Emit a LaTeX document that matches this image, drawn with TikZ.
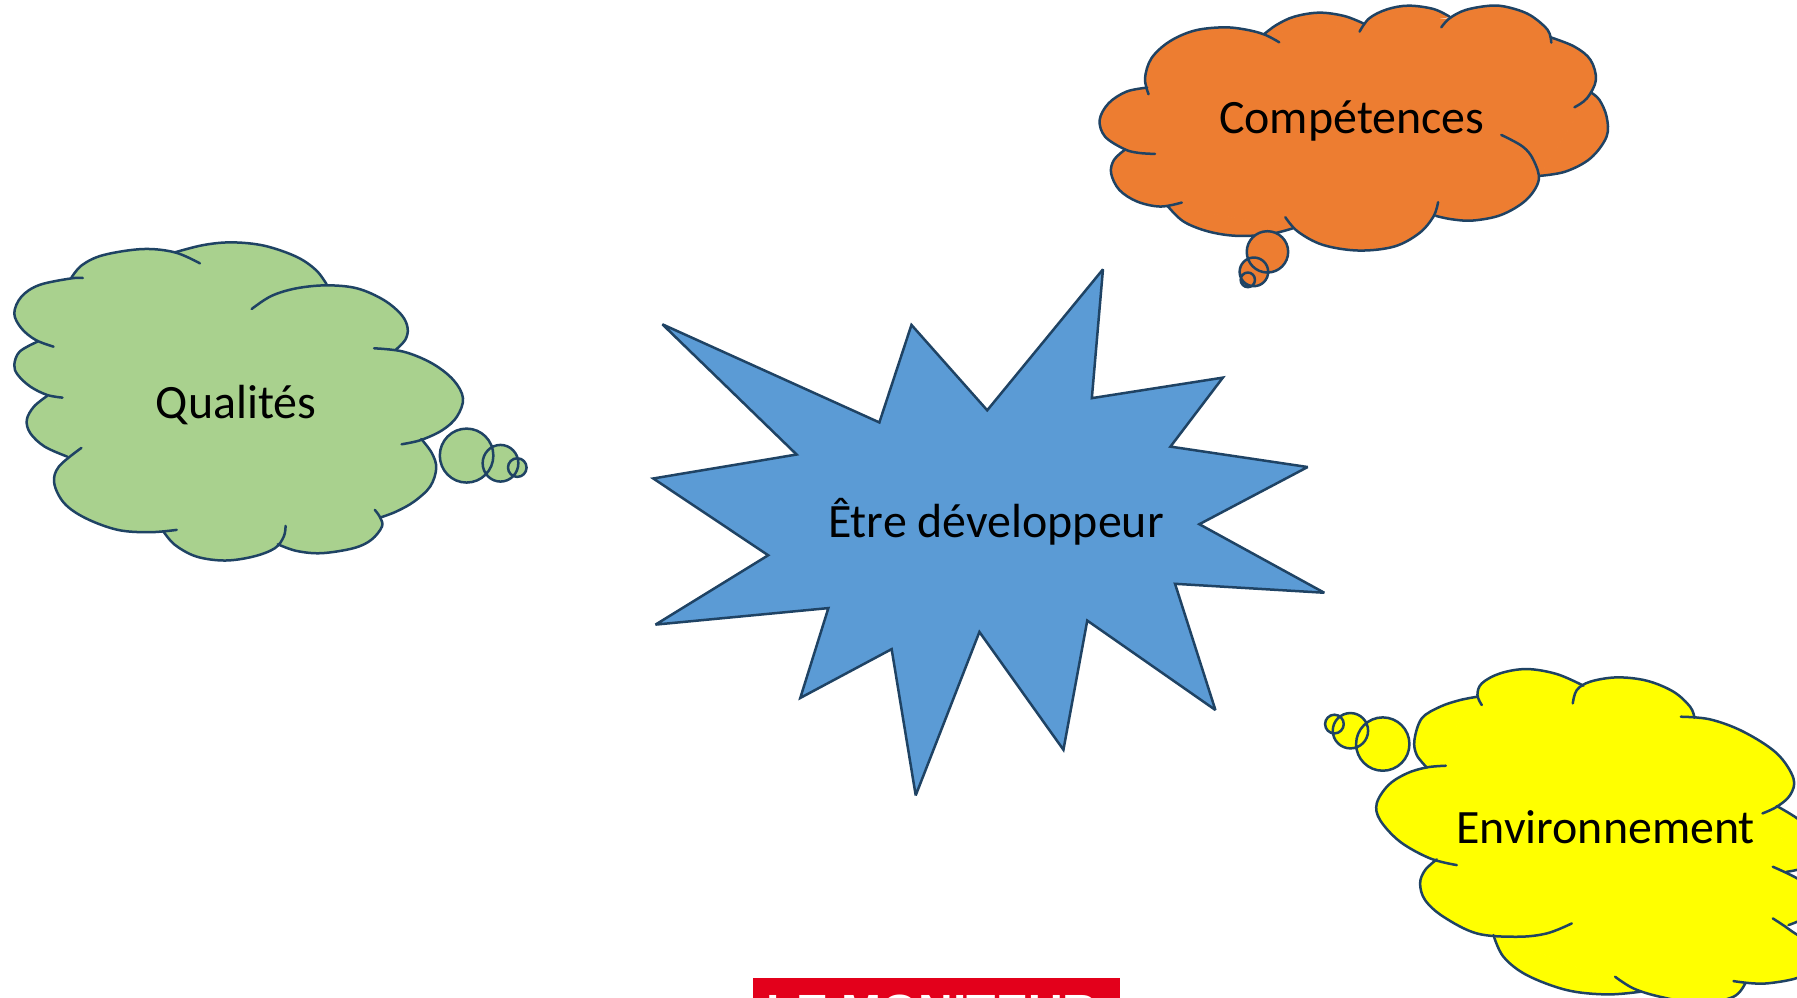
\documentclass[tikz,border=0pt]{standalone}
\usepackage{fontspec}
\setmainfont{Carlito}
\newfontfamily\logofont{Liberation Sans}
\definecolor{cgreen}{HTML}{A9D18E}
\definecolor{corange}{HTML}{ED7D31}
\definecolor{cblue}{HTML}{5B9BD5}
\definecolor{cyell}{HTML}{FFFF00}
\definecolor{cline}{HTML}{1F4364}
\definecolor{cred}{HTML}{E3001B}
\tikzset{
  cloudline/.style={draw=cline,line width=2.5pt,line cap=round,line join=round},
  cloudtext/.style={font=\fontsize{47.9}{52}\selectfont,text=black,inner sep=0pt,anchor=base},
  lobe/.style={smooth,tension=.58},
}
\newcommand\paintcloud[3]{%
  \def\lb##1{\path[fill=#1,draw=#1,line width=1pt] plot[lobe] coordinates {##1} -- cycle;}#3%
  \fill[#1] #2 -- cycle;
  \def\lb##1{\draw[cloudline] plot[lobe] coordinates {##1};}#3%
}
\newcommand\bubbles[4]{%
  \fill[#1] #2 #3 #4;
  \draw[cloudline] #2 #3 #4;
}
\begin{document}
\begin{tikzpicture}[x=1.14605pt,y=-1.14605pt]
\useasboundingbox (0,0) rectangle (1568,869.95);
\clip (0,0) rectangle (1568,869.95);
\fill[white] (0,0) rectangle (1568,869.95);

% Star
\draw[cloudline,line cap=butt,line join=miter,miter limit=3,fill=cblue]
 (578,283)--(767.3,368.6)--(795.3,283.5)--(861.4,358)--(962.4,235)--(952.7,347.4)--(1067,329.5)--(1021.3,389.7)--(1141,407.5)--(1046.5,457.4)--(1155.5,517.2)--(1025.3,509.4)--(1060.5,619.5)--(948.7,541.5)--(927.9,654.2)--(854.6,551.4)--(799,694)--(778,566.4)--(698.3,609)--(722.8,530.6)--(572,545)--(670.3,484.5)--(570,417.5)--(695.1,396.6)--cycle;

% Qualites
\begin{scope}[shift={(0,192)},xscale=.3115,yscale=.2907]
\paintcloud{cgreen}{(490,97)--(915,193)--(1108,390)--(1180,660)--(1065,893)--(778,973)--(458,935)--(188,710)--(132,528)--(105,365)--(200,175)}{%
\lb{(490,97)(570,75)(650,67)(740,77)(830,110)(885,150)(915,193)}
\lb{(705,267)(760,228)(830,205)(915,196)(1000,205)(1075,240)(1125,285)(1142,325)(1135,360)(1108,390)}
\lb{(1048,385)(1130,395)(1210,430)(1270,480)(1297,535)(1280,590)(1240,630)(1180,660)(1125,673)}
\lb{(1180,657)(1210,700)(1222,745)(1205,800)(1160,845)(1110,875)(1065,893)}
\lb{(1050,870)(1065,893)(1070,920)(1040,960)(990,985)(900,1000)(830,993)(778,973)}
\lb{(800,918)(795,950)(770,985)(710,1010)(630,1022)(550,1010)(490,975)(458,935)}
\lb{(495,930)(420,937)(330,930)(240,895)(180,850)(152,790)(165,740)(228,684)}
\lb{(188,710)(125,680)(85,640)(75,600)(95,560)(132,528)}
\lb{(175,533)(132,525)(85,500)(50,465)(40,435)(55,395)(105,365)}
\lb{(150,380)(100,360)(60,325)(40,280)(60,230)(110,195)(200,175)(232,174)}
\lb{(200,173)(230,135)(290,105)(400,87)(490,97)(560,130)}
}
\bubbles{cgreen}{(1307,707) ellipse [x radius=75,y radius=81]}{(1402,730) ellipse [x radius=50,y radius=55]}{(1449,743) ellipse [x radius=26,y radius=28]}
\end{scope}

% Competences
\begin{scope}[shift={(942.4,0)},xscale=.3115,yscale=.2907]
\paintcloud{corange}{(515,103)--(190,270)--(125,450)--(245,618)--(597,685)--(997,648)--(1287,528)--(1432,278)--(1318,112)--(1035,55)--(793,70)}{%
\lb{(558,127)(515,103)(460,88)(400,82)(320,92)(250,125)(200,175)(182,235)(192,283)}
\lb{(188,263)(130,275)(80,310)(55,360)(70,410)(125,448)(165,459)(210,462)}
\lb{(125,450)(95,480)(87,520)(110,570)(160,605)(225,620)(285,608)}
\lb{(245,618)(290,665)(360,695)(440,708)(530,703)(597,685)}
\lb{(575,652)(610,695)(680,735)(780,752)(880,740)(950,700)(990,650)(1003,607)}
\lb{(997,648)(1040,658)(1100,662)(1180,645)(1250,600)(1285,540)(1270,480)(1240,440)(1180,405)}
\lb{(1287,528)(1360,515)(1430,475)(1475,410)(1475,350)(1455,300)(1432,278)}
\lb{(1385,322)(1420,295)(1445,240)(1430,180)(1385,140)(1318,112)}
\lb{(1320,128)(1310,90)(1260,45)(1200,22)(1150,17)(1080,30)(1035,55)(1012,82)}
\lb{(1035,50)(990,27)(920,17)(860,28)(810,55)(783,95)}
\lb{(793,70)(740,48)(670,38)(600,50)(550,75)(515,103)}
}
\bubbles{corange}{(525,756) ellipse [x radius=58,y radius=62]}{(487,816) ellipse [x radius=40,y radius=43]}{(470,840) ellipse [x radius=20,y radius=22]}
\end{scope}

% Environnement
\begin{scope}[shift={(1134.4,567.2)},xscale=.2909,yscale=.2909]
\paintcloud{cyell}{(532,140)--(850,107)--(1183,203)--(1430,470)--(1460,665)--(1465,825)--(1335,1000)--(1020,1025)--(580,855)--(410,628)--(380,352)}{%
\lb{(545,165)(532,135)(545,100)(600,70)(680,57)(770,72)(850,107)}
\lb{(818,160)(830,120)(870,95)(950,82)(1040,92)(1120,125)(1170,170)(1183,203)}
\lb{(1142,200)(1230,208)(1330,245)(1430,310)(1480,385)(1470,435)(1430,470)(1387,490)}
\lb{(1430,468)(1491,505)(1540,550)(1530,640)(1460,665)}
\lb{(1418,650)(1491,685)(1530,720)(1530,790)(1465,825)}
\lb{(1418,805)(1470,840)(1530,890)(1520,970)(1400,1000)(1300,993)}
\lb{(1335,1000)(1300,1040)(1200,1060)(1080,1040)(1000,1015)(945,980)}
\lb{(1020,1025)(920,1033)(800,1020)(680,975)(610,920)(580,855)}
\lb{(815,820)(740,850)(650,860)(530,850)(430,800)(375,750)(360,700)(375,660)(410,628)}
\lb{(470,645)(390,625)(300,575)(240,510)(230,460)(265,405)(320,370)(380,352)(437,347)}
\lb{(380,352)(350,315)(343,270)(365,205)(420,170)(480,150)(532,140)}
}
\bubbles{cyell}{(248,282) ellipse [x radius=80,y radius=80]}{(151,242) ellipse [x radius=53,y radius=53]}{(103,222) ellipse [x radius=28,y radius=28]}
\end{scope}

% Labels
\node[cloudtext] (qual) at (206,365) {Qualités};
\node[cloudtext] (comp) at (1179.5,116.5) {Compétences};
\node[cloudtext] (etre) at (869,469) {Être développeur};
\node[cloudtext] (envi) at (1401,736) {Environnement};

% Logo
\fill[cred] (657,853.4) rectangle (977,880);
\node[anchor=base,inner sep=0pt,text=white,font=\logofont\bfseries\fontsize{48}{50}\selectfont] (logo) at (813.5,897) {LE MONITEUR};
\end{tikzpicture}
\end{document}
